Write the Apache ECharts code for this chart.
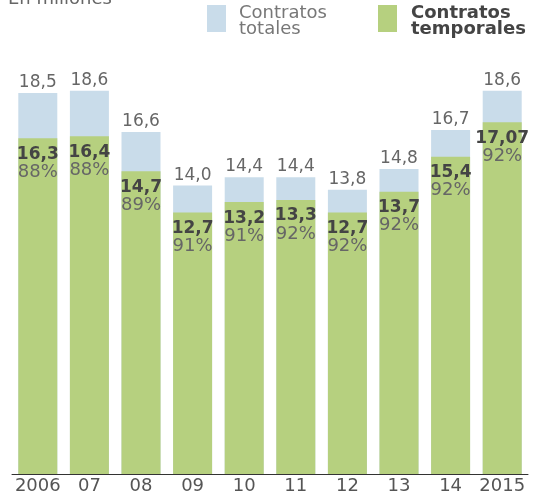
<!DOCTYPE html>
<html lang="es">
<head>
    <meta charset="UTF-8">
    <title>Contratos</title>
    <style>
        html, body { margin: 0; padding: 0; background: #fff; }
        #chart { width: 534px; height: 495px; }
    </style>
</head>
<body>
    <div id="chart"></div>
    <script src="https://cdn.jsdelivr.net/npm/echarts@6/dist/echarts.min.js"></script>
    <script>
    // datos (millones)
    const years = ['2006', '07', '08', '09', '10', '11', '12', '13', '14', '2015']
    const totales = [18.5, 18.6, 16.6, 14.0, 14.4, 14.4, 13.8, 14.8, 16.7, 18.6]
    const temporales = [16.3, 16.4, 14.7, 12.7, 13.2, 13.3, 12.7, 13.7, 15.4, 17.07]
    const porcentaje = [88, 88, 89, 91, 91, 92, 92, 92, 92, 92]

    const BLUE = '#c9dcea'
    const GREEN = '#b6d07f'
    const FONT = '"DejaVu Sans", sans-serif'

    const fmt = v => String(v).replace('.', ',')
    const fmt1 = v => v.toFixed(1).replace('.', ',')

    const chart = echarts.init(document.getElementById('chart'))
    chart.setOption({
        animation: false,
        textStyle: { fontFamily: FONT },
        graphic: [
            // subtitulo (cortado arriba)
            { type: 'text', left: 8, top: -10,
              style: { text: 'En millones', font: '18px ' + FONT, fill: '#666' } },
            // leyenda
            { type: 'rect', shape: { x: 207, y: 5, width: 19, height: 27 }, style: { fill: BLUE } },
            { type: 'text', left: 239, top: 4,
              style: { text: 'Contratos\ntotales', font: '18px ' + FONT, fill: '#777', lineHeight: 16 } },
            { type: 'rect', shape: { x: 378, y: 5, width: 19, height: 27 }, style: { fill: GREEN } },
            { type: 'text', left: 411, top: 4,
              style: { text: 'Contratos\ntemporales', font: 'bold 18px ' + FONT, fill: '#444', lineHeight: 16 } }
        ],
        grid: { left: 12, right: 6, top: 62, bottom: 18 },
        xAxis: {
            type: 'category',
            data: years,
            axisTick: { show: false },
            axisLine: { lineStyle: { color: '#333', width: 1 } },
            axisLabel: { color: '#555', fontSize: 18, margin: 3, interval: 0 }
        },
        yAxis: {
            type: 'value', min: 0, max: 20,
            show: false, splitLine: { show: false }
        },
        series: [
            {
                name: 'Contratos totales',
                type: 'bar',
                data: totales,
                barWidth: 39,
                barGap: '-100%',
                itemStyle: { color: BLUE },
                label: {
                    show: true, position: 'top', distance: 2,
                    color: '#666', fontSize: 17,
                    formatter: p => fmt1(p.value)
                }
            },
            {
                name: 'Contratos temporales',
                type: 'bar',
                data: temporales,
                barWidth: 39,
                itemStyle: { color: GREEN },
                label: {
                    show: true, position: 'insideTop', distance: 7,
                    formatter: p => '{v|' + fmt(p.value) + '}\n{p|' + porcentaje[p.dataIndex] + '%}',
                    rich: {
                        v: { fontSize: 17, fontWeight: 'bold', color: '#444', lineHeight: 18, fontFamily: FONT },
                        p: { fontSize: 18, color: '#666', lineHeight: 18, fontFamily: FONT }
                    }
                }
            }
        ]
    })
    </script>
</body>
</html>
